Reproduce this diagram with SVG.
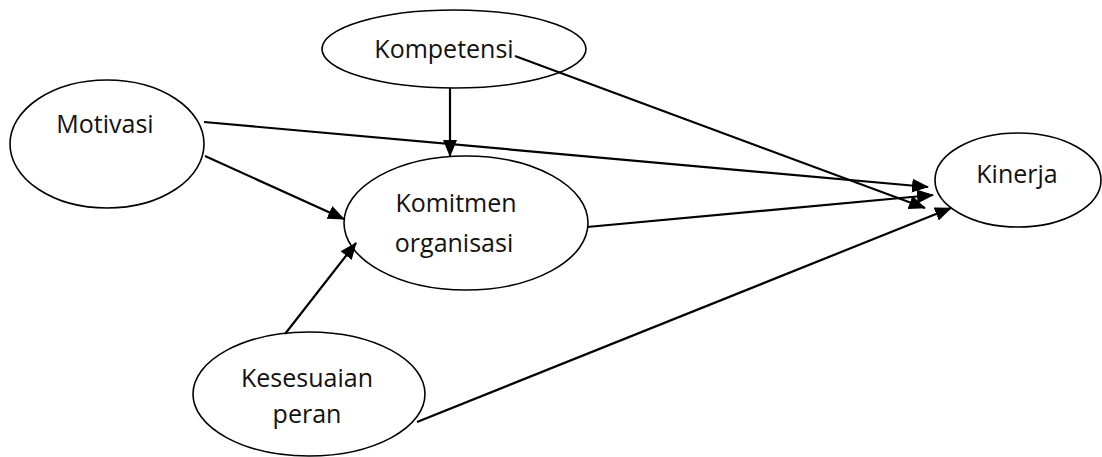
<svg xmlns="http://www.w3.org/2000/svg" width="1102" height="457" viewBox="0 0 1102 457">
<style>
.node ellipse{fill:#fff;stroke:#000;stroke-width:1.6}
.node text{font-family:"Open Sans","Noto Sans",sans-serif;font-size:25px;fill:#111;text-anchor:middle}
.edge{stroke:#000;stroke-width:2.2;fill:none;marker-end:url(#arr)}
</style>
<defs>
<marker id="arr" markerUnits="userSpaceOnUse" markerWidth="18" markerHeight="14" refX="16" refY="7" orient="auto">
<path d="M0,0 L17,7 L0,14 z" fill="#000"/>
</marker>
</defs>
<rect width="1102" height="457" fill="#fff"/>
<g id="n-kompetensi" class="node">
<ellipse cx="454" cy="49" rx="132" ry="39"/>
<text x="444" y="58">Kompetensi</text>
</g>
<g id="n-motivasi" class="node">
<ellipse cx="107" cy="144" rx="97" ry="64"/>
<text x="105" y="133">Motivasi</text>
</g>
<g id="n-komitmen" class="node">
<ellipse cx="466" cy="223" rx="122" ry="67"/>
<text x="456" y="212">Komitmen</text>
<text x="454" y="252">organisasi</text>
</g>
<g id="n-kinerja" class="node">
<ellipse cx="1018" cy="180" rx="83" ry="47"/>
<text x="1017" y="183">Kinerja</text>
</g>
<g id="n-kesesuaian" class="node">
<ellipse cx="309" cy="394" rx="116" ry="62"/>
<text x="307" y="387">Kesesuaian</text>
<text x="307" y="423">peran</text>
</g>
<g id="connectors">
<line class="edge" x1="450" y1="88" x2="450" y2="156"/>
<line class="edge" x1="515" y1="56" x2="925" y2="208"/>
<line class="edge" x1="204" y1="122" x2="928" y2="187"/>
<line class="edge" x1="205" y1="156" x2="344" y2="219"/>
<line class="edge" x1="587" y1="227" x2="933" y2="195"/>
<line class="edge" x1="285" y1="334" x2="356" y2="243"/>
<line class="edge" x1="417" y1="422" x2="951" y2="208"/>
</g>
</svg>
